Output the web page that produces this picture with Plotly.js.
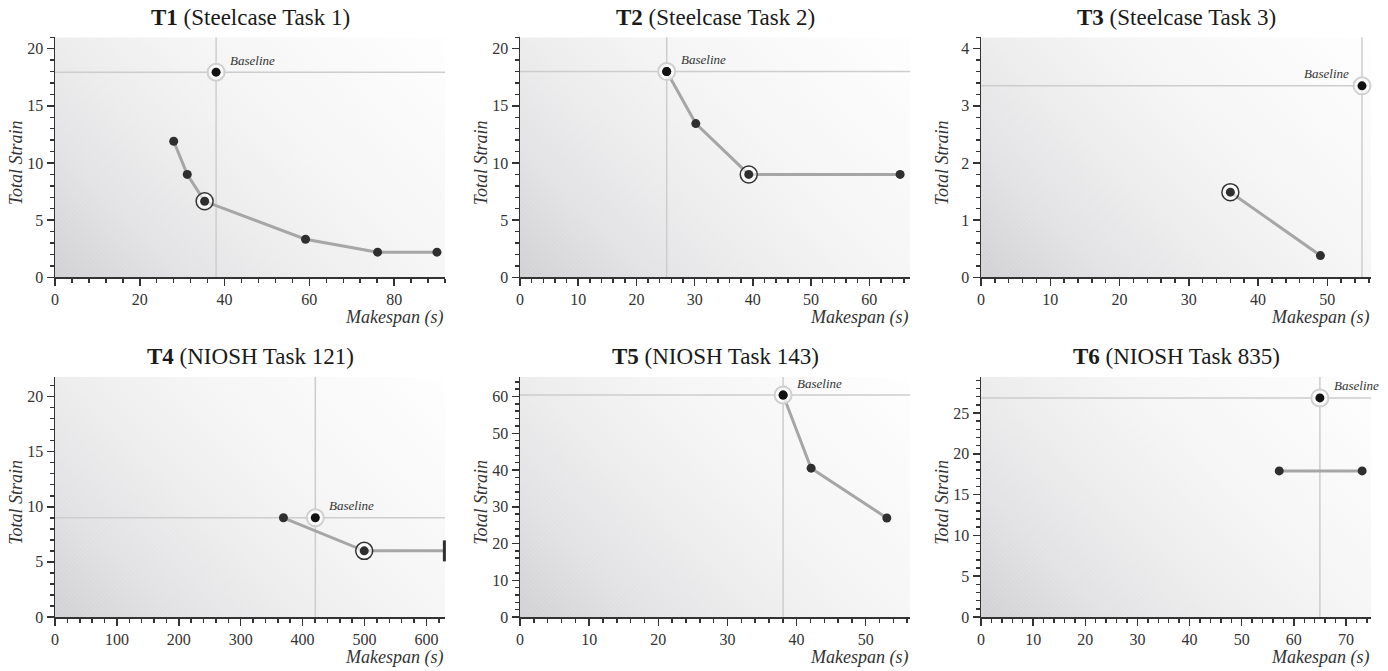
<!DOCTYPE html>
<html>
<head>
<meta charset="utf-8">
<script src="https://cdn.plot.ly/plotly-3.0.1.min.js"></script>
<style>html,body{margin:0;padding:0;background:#fff;}#chart{width:1388px;height:671px;}</style>
</head>
<body>
<div id="chart"></div>
<script>
// ---------- data ----------
const panelBold = ['T1', 'T2', 'T3', 'T4', 'T5', 'T6'];
const panelRest = ['(Steelcase Task 1)', '(Steelcase Task 2)', '(Steelcase Task 3)',
                   '(NIOSH Task 121)', '(NIOSH Task 143)', '(NIOSH Task 835)'];
const xTitle = 'Makespan (s)';
const yTitle = 'Total Strain';
const baselineLabel = 'Baseline';

const t1Makespan = [28.0, 31.2, 35.3, 59.1, 76.1, 90.1];
const t1Strain   = [11.9, 9.0, 6.65, 3.33, 2.2, 2.2];
const t1Selected = [2];
const t1Baseline = [38.0, 17.95];

const t2Makespan = [25.2, 30.2, 39.3, 65.3];
const t2Strain   = [18.0, 13.45, 9.0, 9.0];
const t2Selected = [2];
const t2Baseline = [25.2, 18.0];

const t3Makespan = [36.0, 49.0];
const t3Strain   = [1.49, 0.38];
const t3Selected = [0];
const t3Baseline = [55.0, 3.35];

const t4Makespan = [369, 499.5, 629];
const t4Strain   = [9.0, 6.0, 6.0];
const t4Selected = [1];
const t4Baseline = [420.5, 9.0];
const t4OpenEnd  = [2];

const t5Makespan = [38.05, 42.1, 53.05];
const t5Strain   = [60.4, 40.5, 26.95];
const t5Selected = [];
const t5Baseline = [38.05, 60.4];

const t6Makespan = [57.2, 73.1];
const t6Strain   = [17.9, 17.9];
const t6Selected = [];
const t6Baseline = [65.0, 26.85];

// axis ranges and tick spacing (major, minor)
const xRanges = [[0, 92], [0, 67], [0, 56.3], [0, 630], [0, 56.4], [0, 74.8]];
const yRanges = [[0, 21], [0, 21], [0, 4.2], [0, 21.8], [0, 65.4], [0, 29.45]];
const xMajor = [20, 10, 10, 100, 10, 10];
const xMinor = [4, 2, 2, 20, 2, 2];
const yMajor = [5, 5, 1, 5, 10, 5];
const yMinor = [1, 1, 0.2, 1, 2, 1];

const series = [
  {x: t1Makespan, y: t1Strain, sel: t1Selected, base: t1Baseline, openEnd: []},
  {x: t2Makespan, y: t2Strain, sel: t2Selected, base: t2Baseline, openEnd: []},
  {x: t3Makespan, y: t3Strain, sel: t3Selected, base: t3Baseline, openEnd: []},
  {x: t4Makespan, y: t4Strain, sel: t4Selected, base: t4Baseline, openEnd: t4OpenEnd},
  {x: t5Makespan, y: t5Strain, sel: t5Selected, base: t5Baseline, openEnd: []},
  {x: t6Makespan, y: t6Strain, sel: t6Selected, base: t6Baseline, openEnd: []}
];

// ---------- layout geometry ----------
const W = 1388, H = 671;
const colPx = [[55, 445], [520, 910], [981, 1371]];
const rowPx = [[37.3, 277.3], [376.7, 617]];
const labelLeft = [true, true, false, true, true, true];

const FONT = 'Liberation Serif, Times New Roman, serif';
const INK = '#333333';
const DOT = '#2f2f2f';

function gradientSVG() {
  const svg = "<svg xmlns='http://www.w3.org/2000/svg' width='390' height='240' viewBox='0 0 390 240' preserveAspectRatio='none'>" +
    "<defs><linearGradient id='g' gradientUnits='userSpaceOnUse' x1='0' y1='240' x2='315' y2='-75'>" +
    "<stop offset='0' stop-color='#d1d1d4'/>" +
    "<stop offset='0.2' stop-color='#e2e2e4'/>" +
    "<stop offset='0.4' stop-color='#ededee'/>" +
    "<stop offset='0.6' stop-color='#f5f5f5'/>" +
    "<stop offset='1' stop-color='#fefefe'/>" +
    "</linearGradient>" +
    "<pattern id='p' width='3' height='3' patternUnits='userSpaceOnUse' patternTransform='rotate(45)'>" +
    "<line x1='0' y1='0' x2='0' y2='3' stroke='#ffffff' stroke-opacity='0.18' stroke-width='1'/></pattern></defs>" +
    "<rect width='390' height='240' fill='url(#g)'/>" +
    "<rect width='390' height='240' fill='url(#p)'/></svg>";
  return 'data:image/svg+xml;charset=utf-8,' + encodeURIComponent(svg);
}

const traces = [];
const layout = {
  width: W, height: H,
  margin: {l: 0, r: 0, t: 0, b: 0},
  paper_bgcolor: '#ffffff',
  plot_bgcolor: 'rgba(0,0,0,0)',
  showlegend: false,
  hovermode: false,
  annotations: [],
  images: []
};

series.forEach((s, i) => {
  const r = Math.floor(i / 3), c = i % 3;
  const n = i + 1;
  const xa = 'x' + (n === 1 ? '' : n), ya = 'y' + (n === 1 ? '' : n);
  const xKey = 'xaxis' + (n === 1 ? '' : n), yKey = 'yaxis' + (n === 1 ? '' : n);
  const xd = [colPx[c][0] / W, colPx[c][1] / W];
  const yd = [1 - rowPx[r][1] / H, 1 - rowPx[r][0] / H];

  const axisCommon = {
    showline: true, linecolor: INK, linewidth: 1.5,
    ticks: 'outside', ticklen: 7, tickwidth: 1.5, tickcolor: INK,
    showgrid: false, zeroline: false, fixedrange: true,
    tickfont: {family: FONT, size: 16, color: INK},
    autorange: false
  };
  layout[xKey] = Object.assign({}, axisCommon, {
    domain: xd, anchor: ya, range: xRanges[i], tick0: 0, dtick: xMajor[i],
    minor: {dtick: xMinor[i], tick0: 0, ticks: 'outside', ticklen: 4, tickwidth: 1.5, tickcolor: INK, showgrid: false}
  });
  layout[yKey] = Object.assign({}, axisCommon, {
    domain: yd, anchor: xa, range: yRanges[i], tick0: 0, dtick: yMajor[i],
    minor: {dtick: yMinor[i], tick0: 0, ticks: 'outside', ticklen: 4, tickwidth: 1.5, tickcolor: INK, showgrid: false}
  });

  // background gradient
  layout.images.push({
    source: gradientSVG(), xref: xa + ' domain', yref: ya + ' domain',
    x: 0, y: 1, sizex: 1, sizey: 1, xanchor: 'left', yanchor: 'top',
    sizing: 'stretch', layer: 'below'
  });

  // baseline reference lines (span the whole plot area)
  traces.push({type: 'scatter', mode: 'lines', x: [s.base[0], s.base[0]], y: yRanges[i], xaxis: xa, yaxis: ya,
    line: {color: '#cdcdcd', width: 1.5}, cliponaxis: true, hoverinfo: 'skip'});
  traces.push({type: 'scatter', mode: 'lines', x: xRanges[i], y: [s.base[1], s.base[1]], xaxis: xa, yaxis: ya,
    line: {color: '#cdcdcd', width: 1.5}, cliponaxis: true, hoverinfo: 'skip'});

  // line
  traces.push({type: 'scatter', mode: 'lines', x: s.x, y: s.y, xaxis: xa, yaxis: ya,
    line: {color: '#a6a6a6', width: 3}, cliponaxis: false, hoverinfo: 'skip'});

  // baseline ring
  traces.push({type: 'scatter', mode: 'markers', x: [s.base[0]], y: [s.base[1]], xaxis: xa, yaxis: ya,
    marker: {symbol: 'circle', size: 17, color: 'rgba(255,255,255,0.75)', line: {color: '#cfcfcf', width: 2}},
    cliponaxis: false, hoverinfo: 'skip'});

  // selected ring
  if (s.sel.length) {
    traces.push({type: 'scatter', mode: 'markers', x: s.sel.map(k => s.x[k]), y: s.sel.map(k => s.y[k]), xaxis: xa, yaxis: ya,
      marker: {symbol: 'circle', size: 17, color: 'rgba(255,255,255,0.6)', line: {color: INK, width: 1.5}},
      cliponaxis: false, hoverinfo: 'skip'});
  }

  // dots
  const dotIdx = s.x.map((_, k) => k).filter(k => !s.openEnd.includes(k));
  traces.push({type: 'scatter', mode: 'markers', x: dotIdx.map(k => s.x[k]), y: dotIdx.map(k => s.y[k]), xaxis: xa, yaxis: ya,
    marker: {symbol: 'circle', size: 9, color: DOT, opacity: 1, line: {width: 0}},
    cliponaxis: false, hoverinfo: 'skip'});
  if (s.openEnd.length) {
    traces.push({type: 'scatter', mode: 'markers', x: s.openEnd.map(k => s.x[k]), y: s.openEnd.map(k => s.y[k]), xaxis: xa, yaxis: ya,
      marker: {symbol: 'line-ns', size: 15, color: DOT, line: {color: DOT, width: 3}},
      cliponaxis: false, hoverinfo: 'skip'});
  }

  // baseline dot
  traces.push({type: 'scatter', mode: 'markers', x: [s.base[0]], y: [s.base[1]], xaxis: xa, yaxis: ya,
    marker: {symbol: 'circle', size: 9, color: '#121212', line: {width: 0}}, cliponaxis: false, hoverinfo: 'skip'});

  // title
  layout.annotations.push({xref: xa + ' domain', yref: ya + ' domain', x: 0.5, y: 1, yshift: 20,
    xanchor: 'center', yanchor: 'middle', showarrow: false,
    text: '<b>' + panelBold[i] + '</b> ' + panelRest[i],
    font: {family: FONT, size: 23, color: '#1a1a1a'}});
  // axis titles
  layout.annotations.push({xref: xa + ' domain', yref: ya + ' domain', x: 1, y: 0, yshift: -40,
    xanchor: 'right', yanchor: 'middle', showarrow: false,
    text: '<i>' + xTitle + '</i>', font: {family: FONT, size: 18, color: INK}});
  layout.annotations.push({xref: xa + ' domain', yref: ya + ' domain', x: 0, y: 0.5, xshift: -39, yshift: -6,
    xanchor: 'center', yanchor: 'middle', showarrow: false, textangle: -90,
    text: '<i>' + yTitle + '</i>', font: {family: FONT, size: 18, color: INK}});
  // baseline label
  layout.annotations.push({xref: xa, yref: ya, x: s.base[0], y: s.base[1],
    xshift: labelLeft[i] ? 12 : -11, yshift: 12,
    xanchor: labelLeft[i] ? 'left' : 'right', yanchor: 'middle', showarrow: false,
    text: '<i>' + baselineLabel + '</i>', font: {family: FONT, size: 13, color: INK}});
});

Plotly.newPlot('chart', traces, layout, {displayModeBar: false, staticPlot: true});
</script>
</body>
</html>
